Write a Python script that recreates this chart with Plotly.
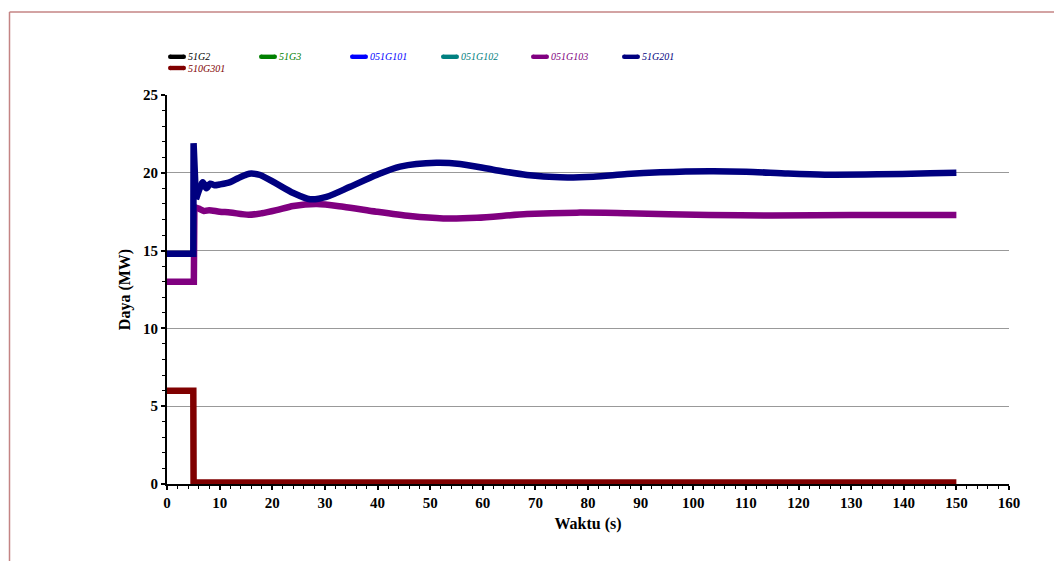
import plotly.graph_objects as go

# ---------------- data ----------------
t_201 = [0, 5.0, 5.05, 5.2, 5.5, 6.0, 6.8, 7.5, 8.2, 9.0, 10, 12, 13.5, 15.2, 16, 17.7, 20.8, 24, 27.2,
         30.3, 34.8, 39.8, 44.3, 51.2, 55.7, 62, 68.4, 74.7, 81, 87.4, 93.7, 103, 110, 118, 125, 135, 145, 150]
p_201 = [14.8, 14.8, 21.9, 20.0, 18.3, 18.8, 19.4, 19.0, 19.3, 19.2, 19.25, 19.4, 19.65, 19.9, 19.95, 19.86,
         19.3, 18.7, 18.3, 18.45, 19.1, 19.86, 20.4, 20.65, 20.57, 20.2, 19.86, 19.71, 19.75, 19.92, 20.03,
         20.1, 20.07, 19.95, 19.88, 19.9, 19.97, 20.0]

t_103 = [0, 5.1, 5.2, 6.0, 7.0, 8.0, 10, 12, 15.5, 18, 20.8, 24, 28.5, 33.5, 39.8, 46.2, 52.5, 58.9,
         68.4, 77.9, 87.4, 103, 115, 130, 150]
p_103 = [13.0, 13.0, 17.8, 17.7, 17.55, 17.6, 17.5, 17.45, 17.3, 17.4, 17.6, 17.87, 18.0, 17.82, 17.5,
         17.22, 17.07, 17.11, 17.35, 17.44, 17.4, 17.29, 17.25, 17.28, 17.29]

t_301 = [0, 5.0, 5.05, 150]
p_301 = [6.0, 6.0, 0.1, 0.1]

names = ["51G2", "51G3", "051G101", "051G102", "051G103", "51G201", "510G301"]
colors = ["#000000", "#008000", "#0000ff", "#008080", "#800080", "#000080", "#800000"]

x_ticks = list(range(0, 161, 10))
y_ticks = list(range(0, 26, 5))

# ---------------- layout geometry ----------------
W, H = 1054, 561
L, R, T, B = 167, 1009, 95, 484


def px2x(px):
    return (px - L) / (R - L)


def py2y(py):
    return (B - py) / (B - T)


fig = go.Figure()

# (x, y, index where the smooth part starts)
series = {
    "051G103": (t_103, p_103, 2),
    "51G201": (t_201, p_201, 4),
    "510G301": (t_301, p_301, None),
}
LW = 6.5
for name, col in zip(names, colors):
    if name not in series:
        continue
    x, y, k = series[name]
    if k is None:
        fig.add_trace(go.Scatter(x=x, y=y, mode="lines", name=name, showlegend=False,
                                 line=dict(color=col, width=LW)))
    else:
        fig.add_trace(go.Scatter(x=x[:k + 1], y=y[:k + 1], mode="lines", name=name, showlegend=False,
                                 line=dict(color=col, width=LW)))
        fig.add_trace(go.Scatter(x=x[k:], y=y[k:], mode="lines", name=name, showlegend=False,
                                 line=dict(color=col, width=LW, shape="spline", smoothing=0.8)))

# manual legend
shapes = []
annotations = []
leg_x = [168, 259, 350, 441, 531, 622, 168]
leg_y = [56.8, 56.8, 56.8, 56.8, 56.8, 56.8, 68]
for name, col, lx, ly in zip(names, colors, leg_x, leg_y):
    r = 2.2
    sw = 18
    shapes.append(dict(type="line", xref="paper", yref="paper",
                       x0=px2x(lx + r), x1=px2x(lx + sw - r), y0=py2y(ly), y1=py2y(ly),
                       line=dict(color=col, width=4.4)))
    for cx in (lx + r, lx + sw - r):
        shapes.append(dict(type="circle", xref="paper", yref="paper",
                           x0=px2x(cx - r), x1=px2x(cx + r), y0=py2y(ly + r), y1=py2y(ly - r),
                           fillcolor=col, line=dict(width=0)))
    annotations.append(dict(xref="paper", yref="paper", x=px2x(lx + sw), y=py2y(ly),
                            xanchor="left", yanchor="middle", showarrow=False,
                            text="<i>" + name + "</i>",
                            font=dict(family="Liberation Serif", size=10, color=col)))

# page border
bc = "#c48484"
shapes.append(dict(type="line", xref="paper", yref="paper", x0=px2x(9.5), x1=px2x(1070),
                   y0=py2y(12), y1=py2y(12), line=dict(color=bc, width=1.5)))
shapes.append(dict(type="line", xref="paper", yref="paper", x0=px2x(9.5), x1=px2x(9.5),
                   y0=py2y(12), y1=py2y(580), line=dict(color=bc, width=1.5)))

tickfont = dict(family="Liberation Serif", size=15, color="#000000")
fig.update_layout(
    width=W, height=H,
    margin=dict(l=L, r=W - R, t=T, b=H - B),
    paper_bgcolor="white", plot_bgcolor="white",
    showlegend=False,
    shapes=shapes, annotations=annotations,
    xaxis=dict(range=[0, 160], tickvals=x_ticks, ticktext=["<b>%d</b>" % v for v in x_ticks],
               tickfont=tickfont, showgrid=False, zeroline=False,
               showline=True, linecolor="black", linewidth=2,
               ticks="outside", ticklen=4, tickwidth=1.5, tickcolor="black",
               minor=dict(dtick=2, ticks="outside", ticklen=3, tickwidth=1, tickcolor="black", showgrid=False),
               title=dict(text="<b>Waktu (s)</b>", font=dict(family="Liberation Serif", size=16, color="black"),
                          standoff=8)),
    yaxis=dict(range=[0, 25], tickvals=y_ticks, ticktext=["<b>%d</b>" % v for v in y_ticks],
               tickfont=tickfont, showgrid=True, gridcolor="#999999", gridwidth=1.2, zeroline=False,
               showline=True, linecolor="black", linewidth=2,
               ticks="outside", ticklen=4, tickwidth=1.5, tickcolor="black",
               minor=dict(dtick=1, ticks="outside", ticklen=3, tickwidth=1, tickcolor="black", showgrid=False),
               title=dict(text="<b>Daya (MW)</b>", font=dict(family="Liberation Serif", size=16, color="black"),
                          standoff=8)),
)

fig.write_html("out.html")
